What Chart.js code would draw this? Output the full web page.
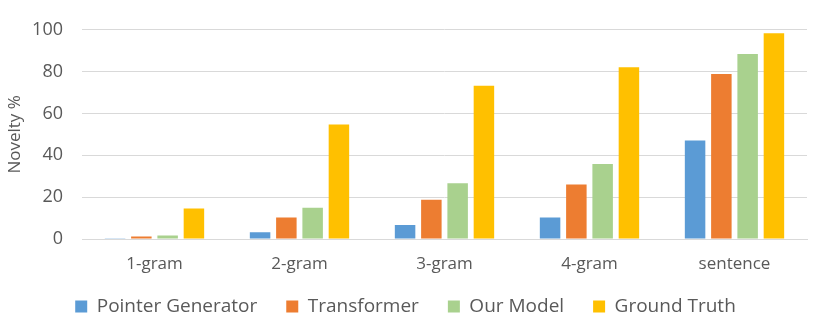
<!DOCTYPE html>
<html>
<head>
<meta charset="utf-8">
<script src="https://cdn.jsdelivr.net/npm/chart.js@4"></script>
<style>
  html, body { margin: 0; padding: 0; background: #fff; }
  #wrap { width: 830px; height: 327px; }
</style>
</head>
<body>
<div id="wrap"><canvas id="novelty"></canvas></div>
<script>
const categories = ['1-gram', '2-gram', '3-gram', '4-gram', 'sentence'];
const pointerGenerator = [0.4, 3.2, 6.7, 10.3, 47.1];
const transformer = [1.2, 10.3, 18.8, 26.0, 78.9];
const ourModel = [1.7, 14.9, 26.7, 35.9, 88.4];
const groundTruth = [14.6, 54.7, 73.3, 82.1, 98.4];
const yTicks = [0, 20, 40, 60, 80, 100];

const textColor = '#595959';
const fontFamily = '"Open Sans", sans-serif';

function bars(label, data, color) {
    return {
        label: label,
        data: data,
        backgroundColor: color,
        categoryPercentage: 0.725,
        barPercentage: 0.78
    };
}

// legend sits a bit higher than its reserved box, like the office chart
const legendShift = {
    id: 'legendShift',
    afterInit(chart) {
        const fit = chart.legend.fit;
        chart.legend.fit = function () {
            fit.call(this);
            this.height = 52;
        };
    },
    afterLayout(chart) {
        chart.legend.top -= 7;
        chart.legend.bottom -= 7;
    }
};

new Chart(document.getElementById('novelty'), {
    type: 'bar',
    data: {
        labels: categories,
        datasets: [
            bars('Pointer Generator', pointerGenerator, '#5B9BD5'),
            bars('Transformer', transformer, '#ED7D31'),
            bars('Our Model', ourModel, '#A9D18E'),
            bars('Ground Truth', groundTruth, '#FFC000')
        ]
    },
    options: {
        responsive: true,
        maintainAspectRatio: false,
        animation: false,
        layout: { padding: { top: 20, right: 23, left: 4, bottom: 0 } },
        plugins: {
            legend: {
                position: 'bottom',
                labels: {
                    color: textColor,
                    font: { family: fontFamily, size: 19 },
                    boxWidth: 12,
                    boxHeight: 12,
                    padding: 29
                }
            },
            tooltip: { enabled: false }
        },
        scales: {
            x: {
                grid: { display: false, drawTicks: false },
                border: { display: true, color: '#D9D9D9', width: 1 },
                ticks: {
                    color: textColor,
                    font: { family: fontFamily, size: 17 },
                    padding: 15
                },
                afterFit: axis => { axis.height = 36; }
            },
            y: {
                min: 0,
                max: 100,
                afterBuildTicks: axis => { axis.ticks = yTicks.map(v => ({ value: v })); },
                grid: { color: '#D9D9D9', drawTicks: false },
                border: { display: false },
                ticks: {
                    color: textColor,
                    font: { family: fontFamily, size: 18 },
                    padding: 19
                },
                title: {
                    display: true,
                    text: 'Novelty %',
                    color: textColor,
                    font: { family: fontFamily, size: 17 },
                    padding: { top: 1, bottom: 8 }
                },
                afterFit: axis => { axis.width = 78; }
            }
        }
    },
    plugins: [legendShift]
});
</script>
</body>
</html>
